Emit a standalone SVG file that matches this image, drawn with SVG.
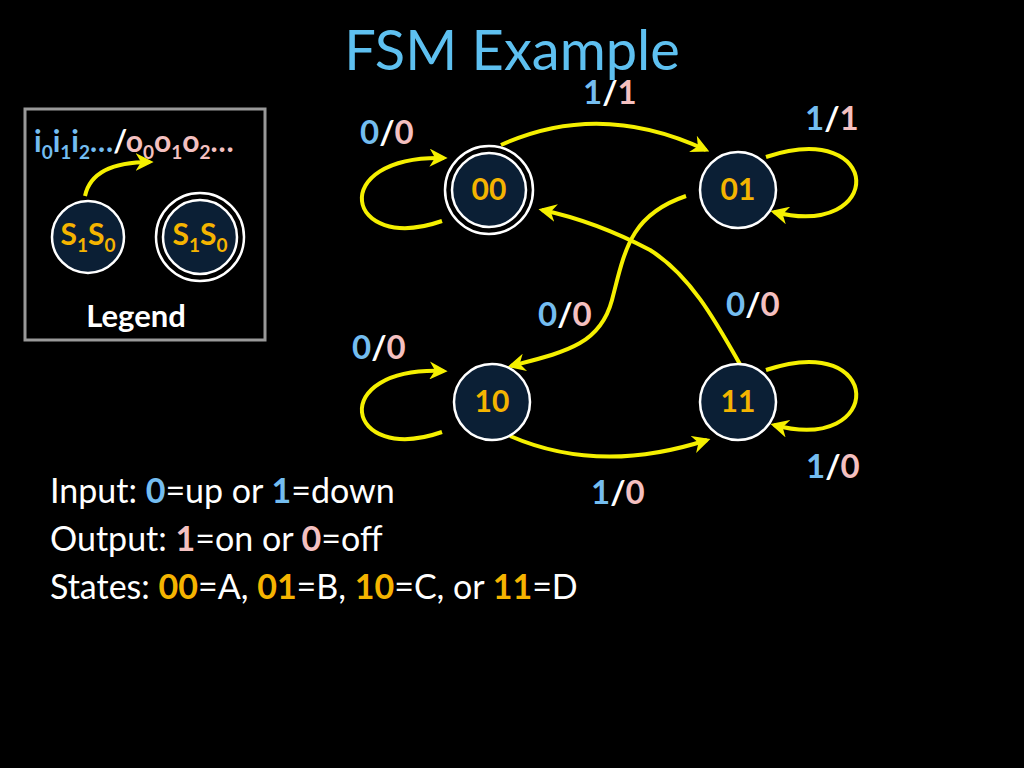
<svg xmlns="http://www.w3.org/2000/svg" width="1024" height="768" viewBox="0 0 1024 768">
<defs>
<style>
text{font-family:Lato,"Open Sans","Liberation Sans",sans-serif}
.b{fill:#74bdf0}.p{fill:#f4c0c0}.w{fill:#fff}.o{fill:#f5b400}
.lbl{font-size:33px;font-weight:bold}
.st{font-size:30px;font-weight:bold;fill:#f5b400;text-anchor:middle}
.node{fill:#0b1f35;stroke:#fff;stroke-width:2.5}
.ring{fill:none;stroke:#fff;stroke-width:2.5}
.e{fill:none;stroke:#f5f000;stroke-width:4;marker-end:url(#ah)}
.body{font-size:34px;fill:#fff}
</style>
<marker id="ah" viewBox="0 0 10 10" refX="8" refY="5" markerWidth="4.5" markerHeight="4.5" orient="auto" markerUnits="strokeWidth"><path d="M0,0 L10,5 L0,10 L3,5 z" fill="#f5f000"/></marker>
</defs>
<rect width="1024" height="768" fill="#000"/>
<text x="512" y="70" text-anchor="middle" font-size="56" fill="#5ec0f0">FSM Example</text>

<g id="legend">
<rect x="25" y="109" width="240" height="231" fill="none" stroke="#999" stroke-width="3"/>
<text x="34" y="152" font-size="30" font-weight="bold"><tspan class="b">i<tspan font-size="19" dy="7">0</tspan><tspan dy="-7">i</tspan><tspan font-size="19" dy="7">1</tspan><tspan dy="-7">i</tspan><tspan font-size="19" dy="7">2</tspan><tspan dy="-7">…</tspan></tspan><tspan class="w">/</tspan><tspan class="p">o<tspan font-size="19" dy="7">0</tspan><tspan dy="-7">o</tspan><tspan font-size="19" dy="7">1</tspan><tspan dy="-7">o</tspan><tspan font-size="19" dy="7">2</tspan><tspan dy="-7">…</tspan></tspan></text>
<path class="e" d="M85,196 C90,172 115,162 150,162"/>
<circle class="node" cx="88" cy="237" r="36"/>
<text x="88" y="245" class="st">S<tspan font-size="19" dy="7">1</tspan><tspan dy="-7">S</tspan><tspan font-size="19" dy="7">0</tspan></text>
<circle class="ring" cx="200" cy="237" r="44"/>
<circle class="node" cx="200" cy="237" r="37"/>
<text x="200" y="245" class="st">S<tspan font-size="19" dy="7">1</tspan><tspan dy="-7">S</tspan><tspan font-size="19" dy="7">0</tspan></text>
<text x="136" y="327" text-anchor="middle" font-size="31" font-weight="bold" fill="#fff">Legend</text>
</g>

<g id="connectors">
<path class="e" d="M501,145 Q600,100 706,150"/>
<path class="e" d="M442,221 C345,255 325,155 444,158"/>
<path class="e" d="M766,157 C885,118 885,240 774,212"/>
<path class="e" d="M686,196 C630,215 625,250 612,300 C600,345 565,352 511,366"/>
<path class="e" d="M741,366 C715,320 690,275 650,250 C612,230 580,218 542,210"/>
<path class="e" d="M442,432 C345,466 325,366 444,371"/>
<path class="e" d="M766,370 C885,330 885,455 774,425"/>
<path class="e" d="M510,436 Q600,475 707,440"/>
</g>

<g id="s00"><circle class="ring" cx="489" cy="190" r="44"/><circle class="node" cx="489" cy="190" r="37"/><text x="489" y="200" class="st">00</text></g>
<g id="s01"><circle class="node" cx="738" cy="190" r="38"/><text x="738" y="200" class="st">01</text></g>
<g id="s10"><circle class="node" cx="492" cy="402" r="38"/><text x="492" y="412" class="st">10</text></g>
<g id="s11"><circle class="node" cx="738" cy="402" r="38"/><text x="738" y="412" class="st">11</text></g>

<g id="labels" class="lbl">
<text x="583" y="104"><tspan class="b">1</tspan><tspan class="w">/</tspan><tspan class="p">1</tspan></text>
<text x="360" y="144"><tspan class="b">0</tspan><tspan class="w">/</tspan><tspan class="p">0</tspan></text>
<text x="805" y="130"><tspan class="b">1</tspan><tspan class="w">/</tspan><tspan class="p">1</tspan></text>
<text x="538" y="326"><tspan class="b">0</tspan><tspan class="w">/</tspan><tspan class="p">0</tspan></text>
<text x="726" y="316"><tspan class="b">0</tspan><tspan class="w">/</tspan><tspan class="p">0</tspan></text>
<text x="352" y="359"><tspan class="b">0</tspan><tspan class="w">/</tspan><tspan class="p">0</tspan></text>
<text x="806" y="478"><tspan class="b">1</tspan><tspan class="w">/</tspan><tspan class="p">0</tspan></text>
<text x="591" y="504"><tspan class="b">1</tspan><tspan class="w">/</tspan><tspan class="p">0</tspan></text>
</g>

<g id="notes" class="body">
<text x="50" y="503">Input: <tspan class="b" font-weight="bold">0</tspan>=up or <tspan class="b" font-weight="bold">1</tspan>=down</text>
<text x="50" y="551">Output: <tspan class="p" font-weight="bold">1</tspan>=on or <tspan class="p" font-weight="bold">0</tspan>=off</text>
<text x="50" y="599">States: <tspan class="o" font-weight="bold">00</tspan>=A, <tspan class="o" font-weight="bold">01</tspan>=B, <tspan class="o" font-weight="bold">10</tspan>=C, or <tspan class="o" font-weight="bold">11</tspan>=D</text>
</g>
</svg>
